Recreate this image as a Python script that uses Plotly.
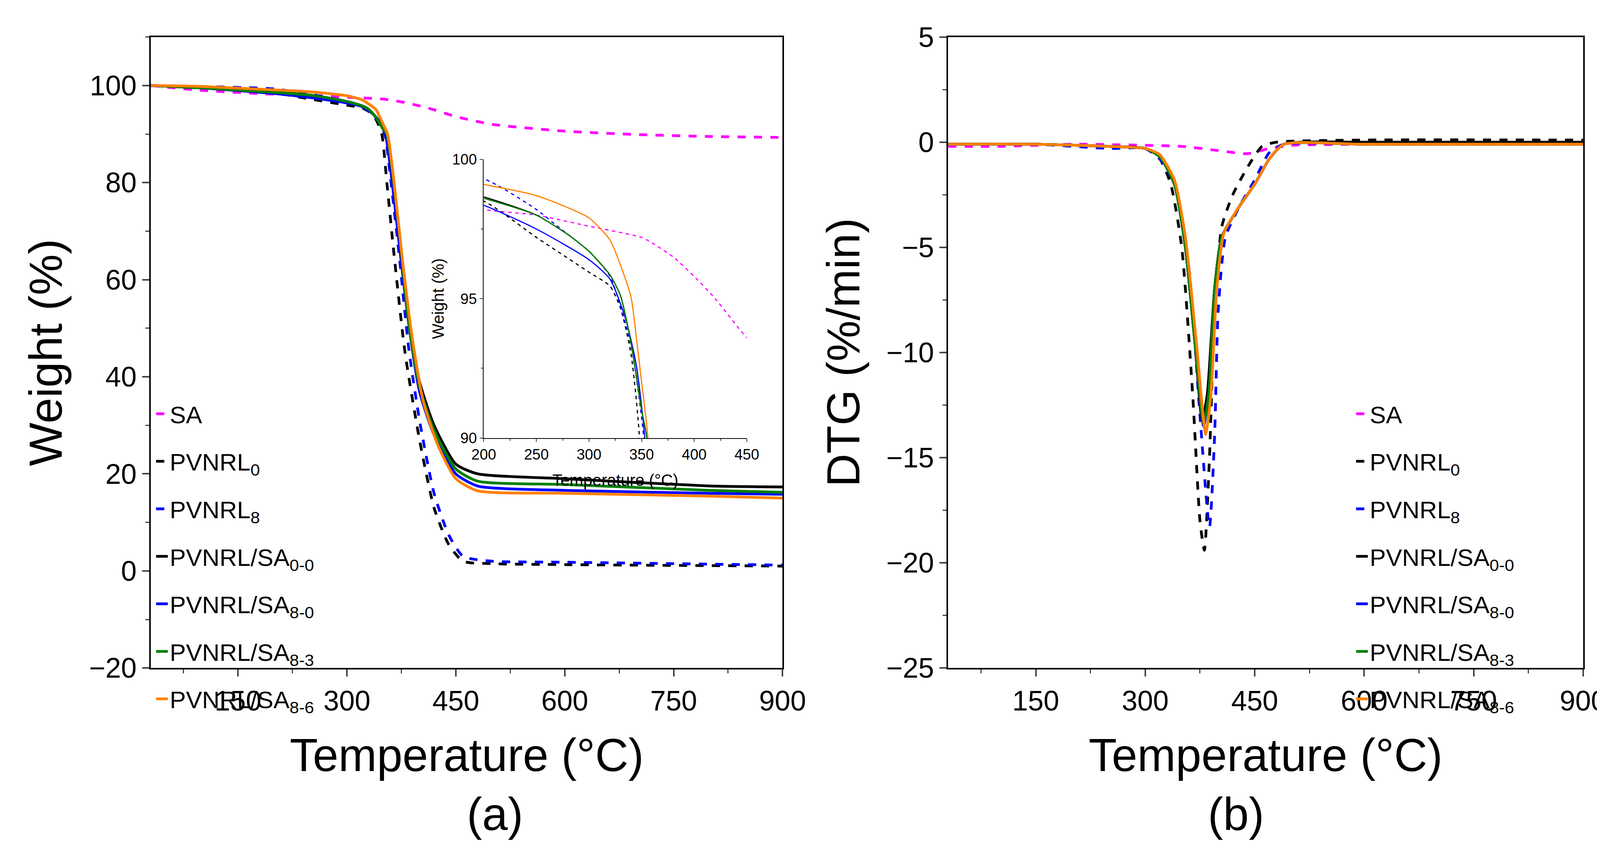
import plotly.graph_objects as go

# ---- TGA data (temperature °C, weight %) ----
sa_t = [30, 100, 200, 250, 300, 350, 360, 380, 400, 420, 450, 500, 600, 700, 800, 900]
sa_w = [100, 99.0, 98.2, 98.0, 97.6, 97.2, 97.0, 96.5, 95.8, 95.0, 93.6, 92.0, 90.6, 89.9, 89.5, 89.3]

p0_t = [30, 100, 200, 250, 300, 320, 330, 340, 348, 355, 365, 380, 400, 420, 440, 460, 500, 600, 900]
p0_w = [100, 99.6, 98.5, 97.2, 95.95, 95.45, 94.65, 93.0, 90.0, 80, 65, 45, 27, 13, 5.5, 2.0, 1.5, 1.3, 1.0]

p8_t = [30, 100, 200, 250, 270, 300, 320, 340, 352, 360, 372, 385, 400, 420, 440, 460, 500, 600, 900]
p8_w = [100, 99.8, 99.3, 98.2, 97.6, 96.7, 95.8, 93.3, 90.0, 81, 65, 46, 31, 16, 7.5, 3.0, 2.0, 1.8, 1.2]

s00_t = [30, 100, 200, 250, 280, 300, 320, 330, 340, 350, 355, 362, 372, 385, 400, 420, 450, 480, 600, 800, 900]
s00_w = [100, 99.5, 98.65, 98.0, 97.3, 96.7, 95.85, 95.1, 93.4, 91.0, 90.0, 83, 70, 52, 39, 30, 22, 20, 19, 17.5, 17.3]

s80_t = [30, 100, 200, 250, 300, 320, 335, 345, 353, 360, 370, 385, 400, 420, 450, 480, 600, 800, 900]
s80_w = [100, 99.5, 98.35, 97.5, 96.4, 95.7, 94.25, 92.6, 90.0, 83, 70, 51, 37, 28, 20, 17.5, 16.6, 16.0, 15.8]

s83_t = [30, 100, 200, 250, 280, 300, 320, 330, 340, 350, 355, 362, 372, 385, 400, 420, 450, 480, 600, 800, 900]
s83_w = [100, 99.5, 98.6, 98.0, 97.3, 96.7, 95.85, 95.1, 93.4, 91.0, 90.0, 83, 70, 51, 38, 29, 21, 18.5, 17.8, 16.6, 16.2]

s86_t = [30, 100, 200, 250, 300, 320, 330, 340, 345, 350, 356, 365, 375, 390, 405, 425, 450, 480, 600, 800, 900]
s86_w = [100, 99.8, 99.1, 98.7, 97.9, 97.1, 96.2, 95.05, 93.6, 92.0, 90.0, 80, 66, 48, 35, 26, 19, 16.5, 16.0, 15.4, 15.0]

# ---- DTG data (temperature °C, %/min) ----
d_sa_t = [30, 100, 200, 300, 350, 400, 440, 470, 500, 600, 900]
d_sa_v = [-0.2, -0.2, -0.1, -0.15, -0.2, -0.4, -0.55, -0.3, -0.15, -0.1, -0.1]

d_p0_t = [30, 150, 250, 300, 320, 335, 350, 365, 375, 381, 388, 395, 405, 420, 440, 460, 480, 600, 900]
d_p0_v = [-0.1, -0.1, -0.2, -0.3, -0.8, -2.0, -5.0, -12, -18, -19.4, -15, -8, -4.0, -2.5, -1.2, -0.2, 0.0, 0.1, 0.1]

d_p8_t = [30, 150, 250, 300, 320, 340, 360, 375, 388, 395, 400, 410, 430, 450, 470, 490, 600, 900]
d_p8_v = [-0.1, -0.1, -0.3, -0.3, -0.8, -2.0, -6.0, -13, -18.3, -14, -8, -4.5, -3.0, -1.8, -0.5, -0.1, -0.1, -0.1]

d_s00_t = [30, 150, 250, 300, 320, 340, 355, 368, 378, 385, 395, 405, 430, 450, 470, 490, 600, 900]
d_s00_v = [-0.1, -0.1, -0.2, -0.3, -0.7, -2.0, -5.0, -9.5, -13.2, -12, -7, -4.5, -3.0, -2.0, -0.8, -0.1, 0.0, 0.0]

d_s80_t = [30, 150, 250, 300, 320, 340, 355, 368, 380, 387, 395, 405, 430, 450, 470, 490, 600, 900]
d_s80_v = [-0.1, -0.1, -0.2, -0.3, -0.7, -2.0, -5.0, -9.5, -13.5, -12, -7, -4.5, -3.0, -2.0, -0.8, -0.1, -0.1, -0.1]

d_s83_t = [30, 150, 250, 300, 320, 340, 355, 368, 380, 387, 395, 405, 430, 450, 470, 490, 600, 900]
d_s83_v = [-0.1, -0.1, -0.2, -0.3, -0.7, -2.0, -5.0, -9.5, -13.4, -12, -7, -4.5, -3.0, -2.0, -0.8, -0.1, -0.1, -0.1]

d_s86_t = [30, 150, 250, 300, 320, 340, 355, 370, 383, 390, 398, 408, 430, 450, 470, 490, 600, 900]
d_s86_v = [-0.1, -0.1, -0.2, -0.3, -0.6, -1.8, -4.5, -9.5, -13.9, -12, -7, -4.3, -3.0, -2.0, -0.8, -0.1, -0.1, -0.1]

names = ["SA", "PVNRL<sub>0</sub>", "PVNRL<sub>8</sub>", "PVNRL/SA<sub>0-0</sub>",
         "PVNRL/SA<sub>8-0</sub>", "PVNRL/SA<sub>8-3</sub>", "PVNRL/SA<sub>8-6</sub>"]
colors = ["#ff00ff", "#000000", "#0000ff", "#000000", "#0000ff", "#008000", "#ff8000"]
dashes = ["dash", "dash", "dash", "solid", "solid", "solid", "solid"]
tga = [(sa_t, sa_w), (p0_t, p0_w), (p8_t, p8_w), (s00_t, s00_w),
       (s80_t, s80_w), (s83_t, s83_w), (s86_t, s86_w)]
dtg = [(d_sa_t, d_sa_v), (d_p0_t, d_p0_v), (d_p8_t, d_p8_v), (d_s00_t, d_s00_v),
       (d_s80_t, d_s80_v), (d_s83_t, d_s83_v), (d_s86_t, d_s86_v)]

FONT = "Liberation Sans, Arial, sans-serif"
BLACK = dict(family=FONT, color="black")
fig = go.Figure()

for i in range(7):
    ln = dict(color=colors[i], dash=dashes[i], width=7, shape="spline", smoothing=0.6)
    fig.add_trace(go.Scatter(x=tga[i][0], y=tga[i][1], mode="lines", name=names[i],
                             line=ln, xaxis="x", yaxis="y", legend="legend",
                             legendgroup="a%d" % i))
    fig.add_trace(go.Scatter(x=dtg[i][0], y=dtg[i][1], mode="lines", name=names[i],
                             line=ln, xaxis="x2", yaxis="y2", legend="legend2",
                             legendgroup="b%d" % i))
    ln_in = dict(color=colors[i], dash=dashes[i], width=3, shape="spline", smoothing=0.6)
    fig.add_trace(go.Scatter(x=tga[i][0], y=tga[i][1], mode="lines", line=ln_in,
                             xaxis="x3", yaxis="y3", showlegend=False))

ax = dict(showline=True, linecolor="black", linewidth=4, mirror=True, ticks="outside",
          ticklen=18, tickwidth=4, showgrid=False, zeroline=False, automargin=False,
          tickfont=dict(size=72, **BLACK))
xt = dict(ax, range=[30, 900], tickvals=[150, 300, 450, 600, 750, 900],
          minor=dict(ticks="outside", ticklen=10, tickwidth=3, tickvals=[75, 225, 375, 525, 675, 825]),
          title=dict(text="Temperature (°C)", font=dict(size=118, **BLACK), standoff=60))
inax = dict(showline=True, linecolor="black", linewidth=2, mirror=False, ticks="outside",
            ticklen=8, tickwidth=2, showgrid=False, zeroline=False, automargin=False,
            tickfont=dict(size=38, **BLACK))

fig.update_layout(
    width=4157, height=2221, margin=dict(l=0, r=0, t=0, b=0, autoexpand=False),
    paper_bgcolor="white", plot_bgcolor="white", showlegend=True,
    xaxis=dict(xt, domain=[0.091, 0.48], anchor="y"),
    yaxis=dict(ax, domain=[0.234, 0.961], range=[-20, 110], tickvals=[-20, 0, 20, 40, 60, 80, 100],
               minor=dict(ticks="outside", ticklen=10, tickwidth=3, dtick=10),
               title=dict(text="Weight (%)", font=dict(size=118, **BLACK), standoff=30), anchor="x"),
    xaxis2=dict(xt, domain=[0.582, 0.973], anchor="y2"),
    yaxis2=dict(ax, domain=[0.234, 0.961], range=[-25, 5], dtick=5,
                minor=dict(ticks="outside", ticklen=10, tickwidth=3, dtick=2.5),
                title=dict(text="DTG (%/min)", font=dict(size=118, **BLACK), standoff=30), anchor="x2"),
    xaxis3=dict(inax, range=[200, 450], dtick=50,
                minor=dict(ticks="outside", ticklen=5, dtick=25),
                title=dict(text="Temperature (°C)", font=dict(size=42, **BLACK), standoff=30),
                domain=[0.296, 0.458], anchor="y3"),
    yaxis3=dict(inax, range=[90, 100], tickvals=[90, 95, 100],
                minor=dict(ticks="outside", ticklen=5, dtick=2.5),
                title=dict(text="Weight (%)", font=dict(size=42, **BLACK), standoff=8),
                domain=[0.499, 0.82], anchor="x3"),
    legend=dict(x=0.093, y=0.548, xanchor="left", yanchor="top", bgcolor="rgba(0,0,0,0)",
                font=dict(size=62, **BLACK), tracegroupgap=38),
    legend2=dict(x=0.832, y=0.548, xanchor="left", yanchor="top", bgcolor="rgba(0,0,0,0)",
                 font=dict(size=62, **BLACK), tracegroupgap=38),
    annotations=[
        dict(text="(a)", x=0.285, y=0.035, xref="paper", yref="paper", showarrow=False,
             font=dict(size=118, **BLACK)),
        dict(text="(b)", x=0.777, y=0.035, xref="paper", yref="paper", showarrow=False,
             font=dict(size=118, **BLACK)),
    ],
)

fig.write_html("out.html")
